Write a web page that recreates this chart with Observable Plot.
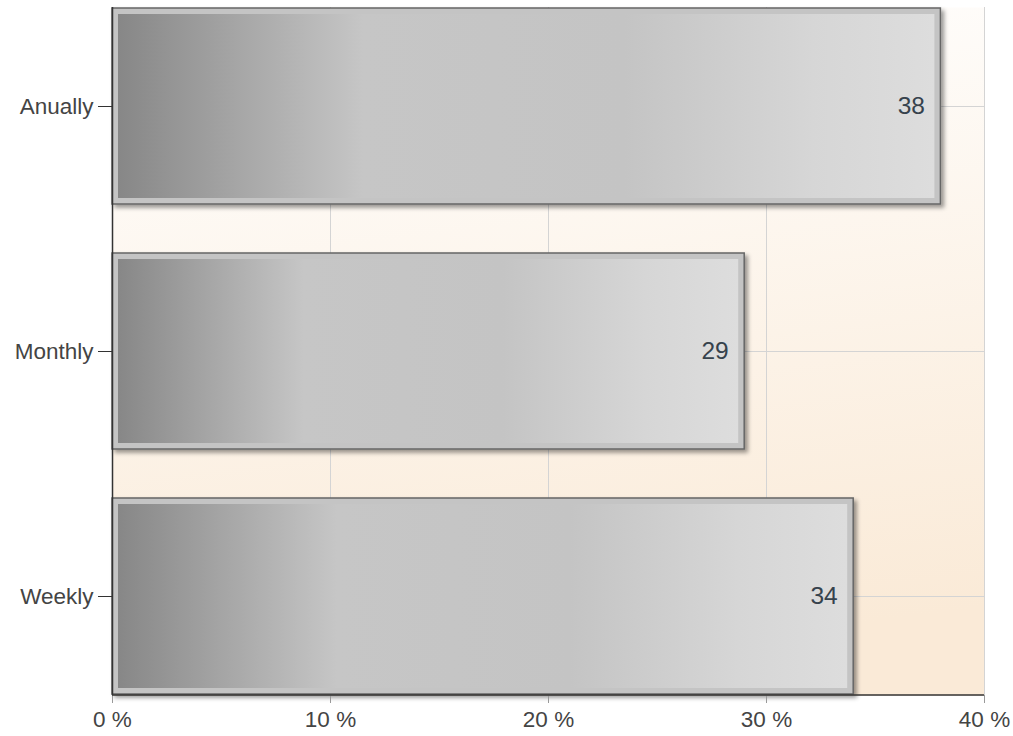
<!DOCTYPE html>
<html>
<head>
<meta charset="utf-8">
<script src="https://cdn.jsdelivr.net/npm/d3@7"></script>
<script src="https://cdn.jsdelivr.net/npm/@observablehq/plot@0.6"></script>
<style>
  html, body { margin: 0; padding: 0; background: #ffffff; }
  #chart svg { display: block; }
</style>
</head>
<body>
<div id="chart"></div>
<script>
const categories = ["Anually", "Monthly", "Weekly"];
const values = [38, 29, 34];
const xTicks = [0, 10, 20, 30, 40];
const xDomain = [0, 40];

const data = categories.map((c, i) => ({cat: c, value: values[i]}));

const W = 1013, H = 736;
const mL = 112, mR = 29, mT = 7, mB = 41;

const chart = Plot.plot({
  width: W,
  height: H,
  marginLeft: mL,
  marginRight: mR,
  marginTop: mT,
  marginBottom: mB,
  style: {fontFamily: "'Liberation Sans', Arial, sans-serif", fontSize: "22.5px", color: "#444", background: "transparent"},
  x: {domain: xDomain, label: null},
  y: {domain: categories, paddingInner: 0.2, paddingOuter: 0, label: null},
  marks: [
    Plot.frame({fill: "url(#bgGrad)", stroke: null}),
    Plot.gridX(xTicks, {stroke: "#d4d4d4", strokeOpacity: 1}),
    Plot.gridY(categories, {stroke: "#d4d4d4", strokeOpacity: 1}),
    Plot.barX(data, {y: "cat", x: "value", fill: "#c4c4c4", stroke: "#666666", strokeWidth: 1.5}),
    Plot.barX(data, {y: "cat", x: "value", fill: "url(#barGrad)", insetLeft: 6, insetRight: 6, insetTop: 6, insetBottom: 6}),
    Plot.text(data, {y: "cat", x: "value", text: d => String(d.value), textAnchor: "end", dx: -16, fontSize: 24.5, fill: "#36424c"}),
    Plot.axisX(xTicks, {tickSize: 8, tickPadding: 8, stroke: "#999", fill: "#444", tickFormat: d => d + " %", label: null}),
    Plot.axisY({tickSize: 14, tickPadding: 5, stroke: "#333", fill: "#444", label: null}),
    Plot.ruleX([0], {stroke: "#333", strokeWidth: 1.5})
  ]
});

const svg = d3.select(chart);
const defs = svg.insert("defs", ":first-child");
const bg = defs.append("linearGradient").attr("id", "bgGrad")
  .attr("x1", 0).attr("y1", 0).attr("x2", 0.15).attr("y2", 1);
bg.append("stop").attr("offset", 0).attr("stop-color", "#ffffff");
bg.append("stop").attr("offset", 1).attr("stop-color", "#faead7");

const bgBar = defs.append("linearGradient").attr("id", "barGrad")
  .attr("x1", 0).attr("y1", 0).attr("x2", 1).attr("y2", 0);
[[0, "#878787"], [0.3, "#c6c6c6"], [0.62, "#c4c4c4"], [0.85, "#d6d6d6"], [1, "#dddddd"]]
  .forEach(([o, c]) => bgBar.append("stop").attr("offset", o).attr("stop-color", c));

const f = defs.append("filter").attr("id", "shadow")
  .attr("filterUnits", "userSpaceOnUse")
  .attr("x", 0).attr("y", 0).attr("width", W).attr("height", H);
f.append("feDropShadow").attr("dx", 3).attr("dy", 3).attr("stdDeviation", 2)
  .attr("flood-color", "#000").attr("flood-opacity", 0.4);

// apply shadow to the outer bar group (the first bar mark)
const barGroups = svg.selectAll('g[aria-label="bar"]').nodes();
if (barGroups.length) d3.select(barGroups[0]).attr("filter", "url(#shadow)");

// bottom axis line drawn from the x scale
const xs = chart.scale("x");
svg.append("line")
  .attr("x1", xs.apply(xDomain[0])).attr("x2", xs.apply(xDomain[1]))
  .attr("y1", H - mB).attr("y2", H - mB)
  .attr("stroke", "#333").attr("stroke-width", 1.5);

document.getElementById("chart").appendChild(chart);
</script>
</body>
</html>
